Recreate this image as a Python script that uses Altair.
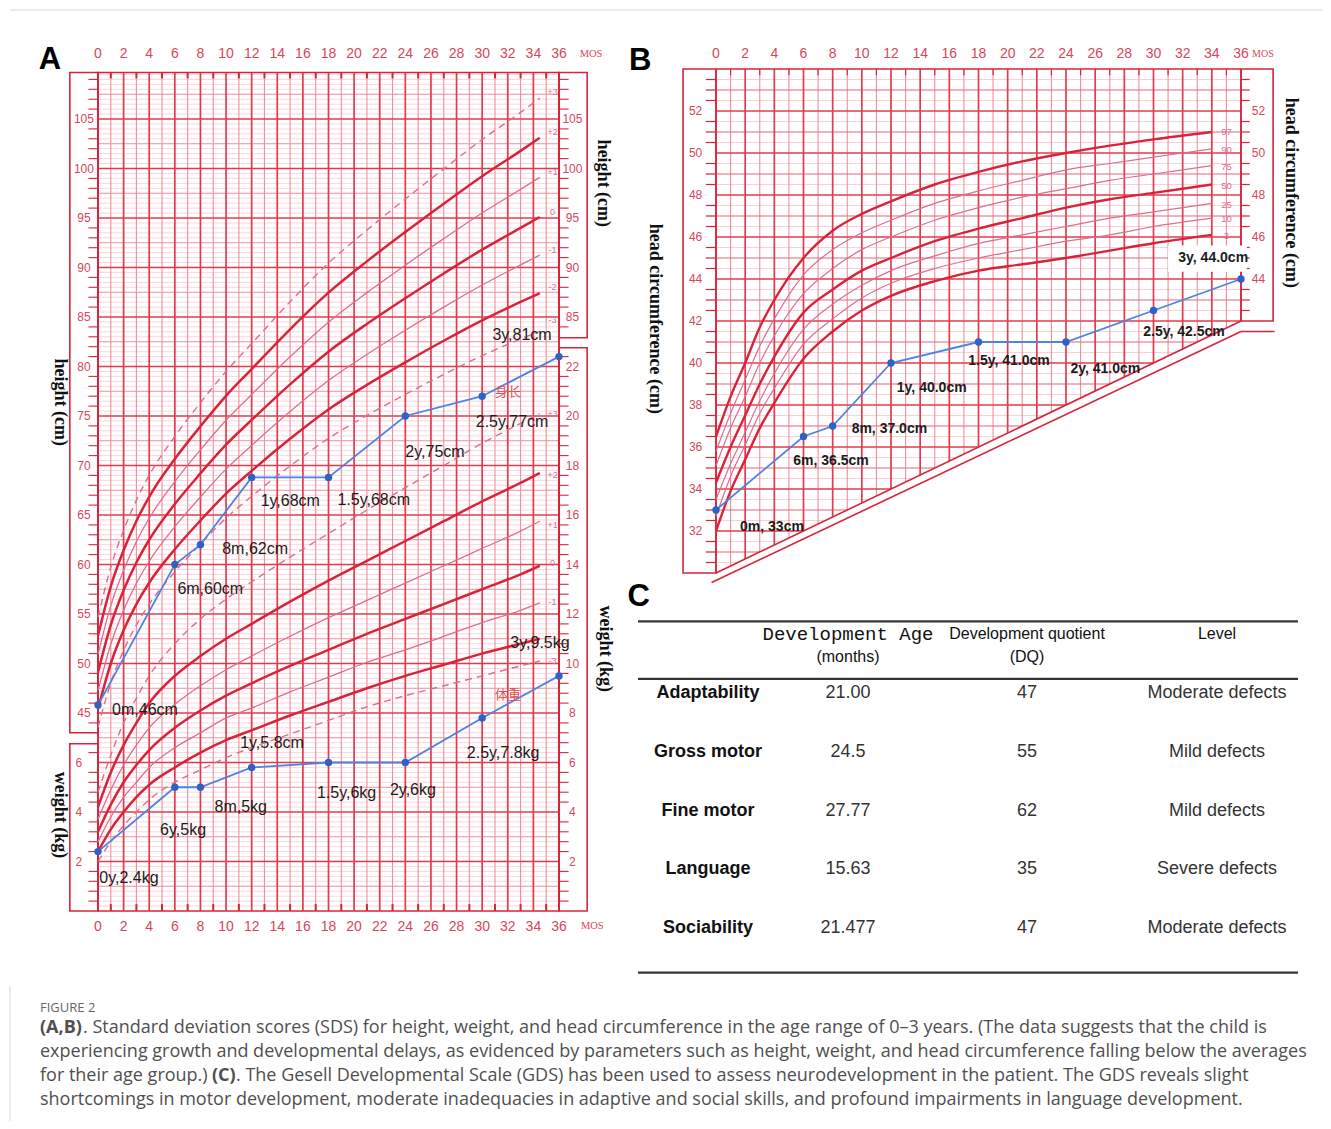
import altair as alt
import pandas as pd

# ---------------- data ----------------
MONTH_TICKS = list(range(0, 37, 2))

# Panel A : height-for-age z-score curves (cm)
H_MONTHS = [0, 1, 2, 3, 4, 6, 8, 10, 12, 15, 18, 21, 24, 27, 30, 33, 34.5]
HEIGHT_Z = {
    "-3": [43.55, 48.05, 51.34, 53.9, 55.99, 59.26, 62.06, 64.69, 66.89, 69.95, 72.74, 75.06, 77.18, 79.2, 81.09, 82.78, 83.55],
    "-2": [45.4, 50.0, 53.36, 56.0, 58.16, 61.54, 64.44, 67.16, 69.46, 72.7, 75.66, 78.14, 80.42, 82.6, 84.66, 86.52, 87.4],
    "-1": [47.25, 51.95, 55.38, 58.1, 60.33, 63.82, 66.82, 69.63, 72.03, 75.45, 78.58, 81.22, 83.66, 86.0, 88.23, 90.26, 91.25],
    "0":  [49.1, 53.9, 57.4, 60.2, 62.5, 66.1, 69.2, 72.1, 74.6, 78.2, 81.5, 84.3, 86.9, 89.4, 91.8, 94.0, 95.1],
    "+1": [50.95, 55.85, 59.42, 62.3, 64.67, 68.38, 71.58, 74.57, 77.17, 80.98, 84.48, 87.46, 90.24, 92.92, 95.51, 97.89, 99.1],
    "+2": [52.8, 57.8, 61.44, 64.4, 66.84, 70.66, 73.96, 77.04, 79.74, 83.76, 87.46, 90.62, 93.58, 96.44, 99.22, 101.78, 103.1],
    "+3": [54.65, 59.75, 63.46, 66.5, 69.01, 72.94, 76.34, 79.51, 82.31, 86.54, 90.44, 93.78, 96.92, 99.96, 102.93, 105.67, 107.1],
}
# Panel A : weight-for-age z-score curves (kg)
WEIGHT_Z = {
    "-3": [2.0, 2.8, 3.45, 4.0, 4.5, 5.2, 5.7, 6.2, 6.6, 7.15, 7.7, 8.25, 8.7, 9.1, 9.5, 9.9, 10.1],
    "-2": [2.4, 3.3, 4.0, 4.6, 5.1, 5.8, 6.4, 6.9, 7.3, 7.9, 8.45, 9.0, 9.5, 9.95, 10.4, 10.8, 11.0],
    "-1": [2.8, 3.8, 4.6, 5.2, 5.8, 6.6, 7.2, 7.8, 8.2, 8.85, 9.45, 10.05, 10.55, 11.1, 11.65, 12.15, 12.45],
    "0":  [3.2, 4.3, 5.2, 5.9, 6.5, 7.4, 8.1, 8.7, 9.2, 9.9, 10.55, 11.2, 11.8, 12.4, 13.0, 13.6, 13.95],
    "+1": [3.7, 4.9, 5.9, 6.7, 7.4, 8.35, 9.1, 9.75, 10.3, 11.1, 11.85, 12.55, 13.25, 13.95, 14.65, 15.35, 15.75],
    "+2": [4.2, 5.6, 6.7, 7.6, 8.4, 9.5, 10.3, 11.0, 11.6, 12.5, 13.35, 14.15, 14.95, 15.75, 16.55, 17.3, 17.7],
    "+3": [4.8, 6.3, 7.6, 8.6, 9.5, 10.8, 11.8, 12.6, 13.3, 14.3, 15.25, 16.2, 17.1, 18.0, 18.9, 19.7, 20.1],
}
# Panel B : head circumference percentile curves (cm)
HC_MONTHS = [0, 1, 2, 3, 4, 6, 8, 10, 12, 15, 18, 21, 24, 27, 30, 34]
HC_PCT = {
    "3":  [32.0, 33.9, 35.4, 36.9, 38.1, 40.2, 41.5, 42.5, 43.2, 43.9, 44.4, 44.7, 45.0, 45.35, 45.7, 46.1],
    "10": [32.7, 34.6, 36.1, 37.6, 38.8, 40.9, 42.1, 43.1, 43.8, 44.5, 45.0, 45.4, 45.8, 46.1, 46.5, 46.9],
    "25": [33.5, 35.2, 36.7, 38.2, 39.5, 41.6, 42.8, 43.7, 44.4, 45.1, 45.7, 46.1, 46.5, 46.9, 47.2, 47.6],
    "50": [34.3, 36.0, 37.5, 39.0, 40.3, 42.4, 43.5, 44.4, 45.0, 45.8, 46.4, 46.9, 47.4, 47.8, 48.1, 48.5],
    "75": [35.1, 36.9, 38.4, 40.0, 41.3, 43.3, 44.5, 45.4, 46.0, 46.8, 47.4, 47.9, 48.3, 48.7, 49.0, 49.4],
    "90": [35.8, 37.6, 39.2, 40.8, 42.1, 44.2, 45.4, 46.2, 46.8, 47.6, 48.2, 48.7, 49.2, 49.5, 49.8, 50.2],
    "97": [36.5, 38.4, 40.0, 41.7, 43.0, 45.0, 46.3, 47.1, 47.7, 48.5, 49.1, 49.6, 50.0, 50.35, 50.65, 51.0],
}

# Patient measurements
PT_MONTHS = [0, 6, 8, 12, 18, 24, 30, 36]
PT_HEIGHT = [45.8, 60, 62, 68.8, 68.8, 75, 77, 81]
PT_WEIGHT = [2.4, 5, 5, 5.8, 6, 6, 7.8, 9.5]
PT_HEAD = [33, 36.5, 37, 40, 41, 41, 42.5, 44]
HEIGHT_TEXT = ["0m,46cm", "6m,60cm", "8m,62cm", "1y,68cm", "1.5y,68cm", "2y,75cm", "2.5y,77cm", "3y,81cm"]
WEIGHT_TEXT = ["0y,2.4kg", "6y,5kg", "8m,5kg", "1y,5.8cm", "1.5y,6kg", "2y,6kg", "2.5y,7.8kg", "3y,9.5kg"]
HEAD_TEXT = ["0m, 33cm", "6m, 36.5cm", "8m, 37.0cm", "1y, 40.0cm", "1.5y, 41.0cm", "2y, 41.0cm",
             "2.5y, 42.5cm", "3y, 44.0cm"]

# Panel C table
C_ITEMS = ["Adaptability", "Gross motor", "Fine motor", "Language", "Sociability"]
C_AGE = ["21.00", "24.5", "27.77", "15.63", "21.477"]
C_DQ = ["47", "55", "62", "35", "47"]
C_LEVEL = ["Moderate defects", "Mild defects", "Mild defects", "Severe defects", "Moderate defects"]

CAPTION_HEAD = "FIGURE 2"
CAP1A = "(A,B)"
CAP1B = (". Standard deviation scores (SDS) for height, weight, and head circumference in the age range "
         "of 0\u20133 years. (The data suggests that the child is")
CAP2 = ("experiencing growth and developmental delays, as evidenced by parameters such as height, weight, "
        "and head circumference falling below the averages")
CAP3A = "for their age group.)"
CAP3B = "(C)"
CAP3C = (". The Gesell Developmental Scale (GDS) has been used to assess neurodevelopment in the patient. "
         "The GDS reveals slight")
CAP4 = ("shortcomings in motor development, moderate inadequacies in adaptive and social skills, and profound "
        "impairments in language development.")

# ---------------- styling ----------------
RED = "#d8243a"
GRID_THICK = "#e33b4d"
GRID_MED = "#ef8e9c"
GRID_LIGHT = "#f8ccd3"
PINK = "#de6d8f"
LBL_RED = "#d8465a"
BLUE = "#4a85e2"
DOT = "#2f62c8"
NARROW = "Liberation Sans Narrow, Arial Narrow, Liberation Sans, sans-serif"
SERIF = "Liberation Serif, Times New Roman, serif"

W, H = 1315, 1113

xA = alt.Scale(domain=[0, 36], range=[90, 551], zero=False, nice=False)
yA = alt.Scale(domain=[25, 110], range=[903, 61.5], zero=False, nice=False)
yW = alt.Scale(domain=[0, 34], range=[903, 61.5], zero=False, nice=False)
xB = alt.Scale(domain=[0, 36], range=[708, 1233], zero=False, nice=False)
yB = alt.Scale(domain=[32, 52], range=[523, 103], zero=False, nice=False)
xC = alt.Scale(domain=[0, 1, 2, 3], range=[700, 840, 1019, 1209], zero=False, nice=False)
yC = alt.Scale(domain=[0, 4], range=[685, 920], zero=False, nice=False)


def rule_layer(df, xs, ys, **mk):
    return alt.Chart(df).mark_rule(**mk).encode(
        x=alt.X("x0:Q", scale=xs, axis=None), x2="x1:Q",
        y=alt.Y("y0:Q", scale=ys, axis=None), y2="y1:Q")


def box_layer(df, xs, ys, **mk):
    return alt.Chart(df).mark_rect(**mk).encode(
        x=alt.X("x0:Q", scale=xs, axis=None), x2="x1:Q",
        y=alt.Y("y0:Q", scale=ys, axis=None), y2="y1:Q")


def text_layer(df, xs, ys, **mk):
    return alt.Chart(df).mark_text(**mk).encode(
        x=alt.X("x:Q", scale=xs, axis=None),
        y=alt.Y("y:Q", scale=ys, axis=None),
        text="t:N")


def curve_layer(df, xs, ys, **mk):
    return alt.Chart(df).mark_line(interpolate="monotone", **mk).encode(
        x=alt.X("m:Q", scale=xs, axis=None),
        y=alt.Y("v:Q", scale=ys, axis=None),
        detail="k:N")


def long_curves(months, table):
    rows = []
    for k, vals in table.items():
        for m, v in zip(months, vals):
            rows.append({"k": k, "m": m, "v": v})
    return pd.DataFrame(rows)


layers = []

# ======================= PANEL A =======================
TOP_A = 109.7
hvals = [k * 0.5 for k in range(51, 220)]


def hclass(h):
    if abs(h / 5 - round(h / 5)) < 1e-9:
        return "thick"
    if abs(h / 2.5 - round(h / 2.5)) < 1e-9:
        return "med"
    return "light"


ha = pd.DataFrame({"y0": hvals})
ha["y1"] = ha.y0
ha["x0"] = 0.0
ha["x1"] = 36.0
ha["c"] = [hclass(h) for h in hvals]
va = pd.DataFrame({"x0": list(range(37))})
va["x1"] = va.x0
va["y0"] = 25.0
va["y1"] = TOP_A

layers.append(rule_layer(ha[ha.c == "light"], xA, yA, color=GRID_LIGHT, strokeWidth=0.8))
layers.append(rule_layer(va[va.x0 % 2 == 1], xA, yA, color=GRID_MED, strokeWidth=1.1))
layers.append(rule_layer(ha[ha.c == "med"], xA, yA, color=GRID_MED, strokeWidth=1.1))
layers.append(rule_layer(ha[ha.c == "thick"], xA, yA, color=GRID_THICK, strokeWidth=1.7))
layers.append(rule_layer(va[va.x0 % 2 == 0], xA, yA, color=GRID_THICK, strokeWidth=1.7))

# frame boxes of panel A
boxA = pd.DataFrame({
    "x0": [0, -2.2, -2.2, 36, 36],
    "x1": [36, 0, 0, 38.2, 38.2],
    "y0": [25, 43.0, 25, 82.9, 25],
    "y1": [TOP_A, TOP_A, 41.9, TOP_A, 81.9],
})
layers.append(box_layer(boxA, xA, yA, fillOpacity=0, stroke=RED, strokeWidth=1.6))

# strip ticks
tk = []
for h in range(44, 110):
    if h % 5:
        tk.append({"x0": -0.75, "x1": 0, "y0": h, "y1": h})
for h in range(26, 42):
    if h % 5:
        tk.append({"x0": -0.75, "x1": 0, "y0": h, "y1": h})
for h in list(range(84, 110)) + list(range(26, 82)):
    if h % 5:
        tk.append({"x0": 36, "x1": 36.75, "y0": h, "y1": h})
layers.append(rule_layer(pd.DataFrame(tk), xA, yA, color=RED, strokeWidth=1.1))
mt = []
for m in range(1, 36, 2):
    mt.append({"x0": m, "x1": m, "y0": TOP_A - 0.6, "y1": TOP_A})
    mt.append({"x0": m, "x1": m, "y0": 25, "y1": 25.7})
layers.append(rule_layer(pd.DataFrame(mt), xA, yA, color=RED, strokeWidth=2))

# growth curves
hz = long_curves(H_MONTHS, HEIGHT_Z)
wz = long_curves(H_MONTHS, WEIGHT_Z)
for df, ys in [(hz, yA), (wz, yW)]:
    layers.append(curve_layer(df[df.k.isin(["-3", "+3"])], xA, ys, color=PINK, strokeWidth=1.4,
                              strokeDash=[7, 5]))
    layers.append(curve_layer(df[df.k.isin(["-1", "+1"])], xA, ys, color=PINK, strokeWidth=1.3))
    layers.append(curve_layer(df[df.k.isin(["-2", "0", "+2"])], xA, ys, color=RED, strokeWidth=2.5))

# patient series
pa = pd.DataFrame({"m": PT_MONTHS, "h": PT_HEIGHT, "w": PT_WEIGHT, "hc": PT_HEAD})
for field, ys in [("h", yA), ("w", yW)]:
    base = alt.Chart(pa).encode(x=alt.X("m:Q", scale=xA, axis=None),
                                y=alt.Y(f"{field}:Q", scale=ys, axis=None))
    layers.append(base.mark_line(color=BLUE, strokeWidth=1.8))
    layers.append(base.mark_point(filled=True, color=DOT, size=55, opacity=1))

# patient labels (annotation anchors in data units)
lab_h = pd.DataFrame({
    "t": HEIGHT_TEXT,
    "x": [1.1, 6.2, 9.7, 12.7, 18.7, 24.0, 29.5, 30.8],
    "y": [45.3, 57.5, 61.6, 66.4, 66.5, 71.4, 74.4, 83.2],
})
lab_w = pd.DataFrame({
    "t": WEIGHT_TEXT,
    "x": [0.1, 4.85, 9.1, 11.1, 17.1, 22.8, 28.8, 32.2],
    "y": [28.3, 33.2, 35.5, 42.0, 36.9, 37.2, 41.0, 52.1],
})
for df in [lab_h, lab_w]:
    layers.append(text_layer(df, xA, yA, align="left", baseline="middle", font=NARROW, fontSize=16,
                             color="#1c1c1c"))
cn = pd.DataFrame({"t": ["身长", "体重"], "x": [31.0, 31.0], "y": [77.4, 46.8]})
layers.append(text_layer(cn, xA, yA, align="left", baseline="middle", font="Noto Sans CJK SC",
                         fontSize=13, color="#e0504f"))

# z-score labels at curve ends
zl_h = pd.DataFrame({"t": ["+3", "+2", "+1", "0", "-1", "-2", "-3"], "x": [35.5] * 7,
                     "y": [107.7, 103.7, 99.6, 95.6, 91.8, 88.0, 84.7]})
zl_w = pd.DataFrame({"t": ["+3", "+2", "+1", "0", "-1", "-3"], "x": [35.5] * 6,
                     "y": [20.07, 17.6, 15.6, 14.05, 12.5, 10.1]})
layers.append(text_layer(zl_h, xA, yA, align="center", baseline="middle", font=NARROW, fontSize=9,
                         color=PINK))
layers.append(text_layer(zl_w, xA, yW, align="center", baseline="middle", font=NARROW, fontSize=9,
                         color=PINK))

# axis tick labels of panel A
ax_left_h = pd.DataFrame({"t": [str(v) for v in range(45, 110, 5)], "y": list(range(45, 110, 5))})
ax_left_h["x"] = -1.1
ax_left_w = pd.DataFrame({"t": ["2", "4", "6"], "y": [2, 4, 6]})
ax_left_w["x"] = -1.5
ax_right_h = pd.DataFrame({"t": [str(v) for v in range(85, 110, 5)], "y": list(range(85, 110, 5))})
ax_right_h["x"] = 37.05
ax_right_w = pd.DataFrame({"t": [str(v) for v in range(2, 23, 2)], "y": list(range(2, 23, 2))})
ax_right_w["x"] = 37.05
lblkw = dict(align="center", baseline="middle", font=NARROW, fontSize=12, color=LBL_RED)
layers.append(text_layer(ax_left_h, xA, yA, **lblkw))
layers.append(text_layer(ax_left_w, xA, yW, **lblkw))
layers.append(text_layer(ax_right_h, xA, yA, **lblkw))
layers.append(text_layer(ax_right_w, xA, yW, **lblkw))
mA = pd.DataFrame({"t": [str(v) for v in MONTH_TICKS], "x": MONTH_TICKS})
mA_top = mA.assign(y=111.6)
mA_bot = mA.assign(y=23.4)
monkw = dict(align="center", baseline="middle", font=NARROW, fontSize=14, color=LBL_RED)
layers.append(text_layer(mA_top, xA, yA, **monkw))
layers.append(text_layer(mA_bot, xA, yA, **monkw))
mosA = pd.DataFrame({"t": ["MOS", "MOS"], "x": [38.5, 38.6], "y": [111.6, 23.5]})
layers.append(text_layer(mosA, xA, yA, align="center", baseline="middle", font=SERIF, fontSize=10.5,
                         color=LBL_RED))

# axis titles of panel A
titA = pd.DataFrame({"t": ["height (cm)", "height (cm)", "weight (kg)", "weight (kg)"],
                     "x": [-2.97, 39.45, -2.97, 39.6], "y": [76.4, 98.5, 34.7, 51.5]})
layers.append(text_layer(titA, xA, yA, align="center", baseline="middle", angle=90, font=SERIF,
                         fontSize=18, fontWeight="bold", color="#111111"))

# ======================= PANEL B =======================
TOP_B = 54.0
cvals = [k * 0.5 for k in range(61, 108)]  # 30.5 .. 53.5
hb = pd.DataFrame({"y0": cvals})
hb["y1"] = hb.y0
hb["x0"] = 0.0
hb["x1"] = [min(36.0, 3 * (c - 30)) for c in cvals]
hb["c"] = ["thick" if c % 2 == 0 else ("med" if c % 1 == 0 else "light") for c in cvals]
vb = pd.DataFrame({"x0": list(range(37))})
vb["x1"] = vb.x0
vb["y0"] = [30 + m / 3 for m in range(37)]
vb["y1"] = TOP_B

layers.append(rule_layer(hb[hb.c == "light"], xB, yB, color=GRID_LIGHT, strokeWidth=0.9))
layers.append(rule_layer(vb[vb.x0 % 2 == 1], xB, yB, color=GRID_MED, strokeWidth=1.1))
layers.append(rule_layer(hb[hb.c == "med"], xB, yB, color="#e76475", strokeWidth=1.2))
layers.append(rule_layer(hb[hb.c == "thick"], xB, yB, color=GRID_THICK, strokeWidth=1.7))
layers.append(rule_layer(vb[vb.x0 % 2 == 0], xB, yB, color=GRID_THICK, strokeWidth=1.7))

boxB = pd.DataFrame({"x0": [-2.26, 36], "x1": [0, 38.2], "y0": [30.0, 42.0], "y1": [TOP_B, TOP_B]})
layers.append(box_layer(boxB, xB, yB, fillOpacity=0, stroke=RED, strokeWidth=1.6))
edgeB = pd.DataFrame({
    "x0": [0, 0, -0.3, 36],
    "x1": [36, 36, 36, 38.3],
    "y0": [TOP_B, 30, 29.55, 41.5],
    "y1": [TOP_B, 42, 41.5, 41.5],
})
layers.append(rule_layer(edgeB, xB, yB, color=RED, strokeWidth=1.6))
tb = []
for c in cvals:
    if c % 2:
        tb.append({"x0": -0.7, "x1": 0, "y0": c, "y1": c})
        if c > 42:
            tb.append({"x0": 36, "x1": 36.6, "y0": c, "y1": c})
for m in range(1, 36, 2):
    tb.append({"x0": m, "x1": m, "y0": TOP_B - 0.3, "y1": TOP_B})
layers.append(rule_layer(pd.DataFrame(tb), xB, yB, color=RED, strokeWidth=1.2))

hcz = long_curves(HC_MONTHS, HC_PCT)
layers.append(curve_layer(hcz[hcz.k.isin(["10", "25", "75", "90"])], xB, yB, color=PINK, strokeWidth=1.2))
layers.append(curve_layer(hcz[hcz.k.isin(["3", "50", "97"])], xB, yB, color=RED, strokeWidth=2.4))

baseB = alt.Chart(pa).encode(x=alt.X("m:Q", scale=xB, axis=None), y=alt.Y("hc:Q", scale=yB, axis=None))
layers.append(baseB.mark_line(color=BLUE, strokeWidth=1.8))
layers.append(baseB.mark_point(filled=True, color=DOT, size=55, opacity=1))

whiteB = pd.DataFrame({"x0": [31.0], "x1": [36.4], "y0": [44.35], "y1": [45.6]})
layers.append(box_layer(whiteB, xB, yB, color="white"))
lab_b = pd.DataFrame({
    "t": HEAD_TEXT,
    "x": [1.65, 5.3, 9.3, 12.4, 17.3, 24.3, 29.3, 31.7],
    "y": [32.2, 35.35, 36.85, 38.8, 40.1, 39.7, 41.5, 45.0],
})
layers.append(text_layer(lab_b, xB, yB, align="left", baseline="middle", font=NARROW, fontSize=14,
                         fontWeight="bold", color="#1c1c1c"))
pl = pd.DataFrame({"t": ["97", "90", "75", "50", "25", "10", "3"], "x": [35.0] * 7,
                   "y": [51.0, 50.14, 49.33, 48.43, 47.52, 46.86, 46.05]})
layers.append(text_layer(pl, xB, yB, align="center", baseline="middle", font=NARROW, fontSize=9.5,
                         color=PINK))
axBl = pd.DataFrame({"t": [str(v) for v in range(32, 53, 2)], "y": list(range(32, 53, 2))})
axBl["x"] = -1.4
axBr = pd.DataFrame({"t": [str(v) for v in range(44, 53, 2)], "y": list(range(44, 53, 2))})
axBr["x"] = 37.2
layers.append(text_layer(axBl, xB, yB, **lblkw))
layers.append(text_layer(axBr, xB, yB, **lblkw))
mB = mA.assign(y=54.72)
layers.append(text_layer(mB, xB, yB, **monkw))
mosB = pd.DataFrame({"t": ["MOS"], "x": [37.5], "y": [54.72]})
layers.append(text_layer(mosB, xB, yB, align="center", baseline="middle", font=SERIF, fontSize=10,
                         color=LBL_RED))
titB = pd.DataFrame({"t": ["head circumference  (cm)", "head circumference  (cm)"],
                     "x": [-4.2, 39.4], "y": [42.1, 48.1]})
layers.append(text_layer(titB, xB, yB, align="center", baseline="middle", angle=90, font=SERIF,
                         fontSize=18, fontWeight="bold", color="#111111"))

# panel letters
letters = pd.DataFrame({"t": ["A"], "x": [-3.75], "y": [111.0]})
layers.append(text_layer(letters, xA, yA, align="center", baseline="middle",
                         font="Liberation Sans, Arial, sans-serif", fontSize=31, fontWeight="bold",
                         color="black"))
lettersB = pd.DataFrame({"t": ["B", "C"], "x": [-5.2, -5.3], "y": [54.4, 28.86]})
layers.append(text_layer(lettersB, xB, yB, align="center", baseline="middle",
                         font="Liberation Sans, Arial, sans-serif", fontSize=31, fontWeight="bold",
                         color="black"))

# ======================= PANEL C (table) =======================
rulesC = pd.DataFrame({"x0": [-0.5] * 3, "x1": [3.426] * 3, "y0": [-1.22, -0.24, 4.76],
                       "y1": [-1.22, -0.24, 4.76]})
layers.append(rule_layer(rulesC, xC, yC, color="#333333", strokeWidth=2.2))
hdr_mono = pd.DataFrame({"t": ["Development Age"], "x": [1], "y": [-1.0]})
layers.append(text_layer(hdr_mono, xC, yC, align="center", baseline="middle",
                         font="Liberation Mono, DejaVu Sans Mono, monospace", fontSize=19, color="#111111"))
hdr = pd.DataFrame({"t": ["(months)", "Development quotient", "(DQ)", "Level"],
                    "x": [1, 2, 2, 3], "y": [-0.62, -1.0, -0.62, -1.0]})
layers.append(text_layer(hdr, xC, yC, align="center", baseline="middle", font=NARROW, fontSize=16,
                         color="#111111"))
rows_items = pd.DataFrame({"t": C_ITEMS, "x": [0] * 5, "y": list(range(5))})
layers.append(text_layer(rows_items, xC, yC, align="center", baseline="middle", font=NARROW, fontSize=18,
                         fontWeight="bold", color="#111111"))
body = pd.DataFrame({"t": C_AGE + C_DQ + C_LEVEL,
                     "x": [1] * 5 + [2] * 5 + [3] * 5,
                     "y": list(range(5)) * 3})
layers.append(text_layer(body, xC, yC, align="center", baseline="middle", font=NARROW, fontSize=18,
                         color="#333333"))

# ======================= caption =======================
one = pd.DataFrame({"a": [0]})
CAPF = "Open Sans, Noto Sans, sans-serif"
CAPC = "#4f4f4f"


def cap(text, x, y, size=18, weight="normal", color=CAPC):
    return alt.Chart(one).mark_text(align="left", baseline="middle", font=CAPF, fontSize=size,
                                    fontWeight=weight, color=color, text=text).encode(
        x=alt.value(x), y=alt.value(y))


layers.append(cap(CAPTION_HEAD, 32, 1000, size=13, color="#666666"))
layers.append(cap(CAP1A, 32, 1020, weight="bold"))
layers.append(cap(CAP1B, 75, 1020))
layers.append(cap(CAP2, 32, 1044))
layers.append(cap(CAP3A, 32, 1068))
layers.append(cap(CAP3B, 204, 1068, weight="bold"))
layers.append(cap(CAP3C, 228, 1068))
layers.append(cap(CAP4, 32, 1092))

# figure border lines
layers.append(alt.Chart(one).mark_rule(color="#d6d6d6", strokeWidth=1).encode(
    x=alt.value(2), x2=alt.value(1323), y=alt.value(2), y2=alt.value(2)))
layers.append(alt.Chart(one).mark_rule(color="#d6d6d6", strokeWidth=1).encode(
    x=alt.value(2), x2=alt.value(2), y=alt.value(978), y2=alt.value(1121)))

chart = alt.layer(*layers).resolve_scale(x="independent", y="independent").properties(
    width=W, height=H, autosize=alt.AutoSizeParams(type="none"), padding=0,
    background="white").configure_view(stroke=None)

chart.save("out.html", embed_options={"renderer": "svg", "actions": False})
